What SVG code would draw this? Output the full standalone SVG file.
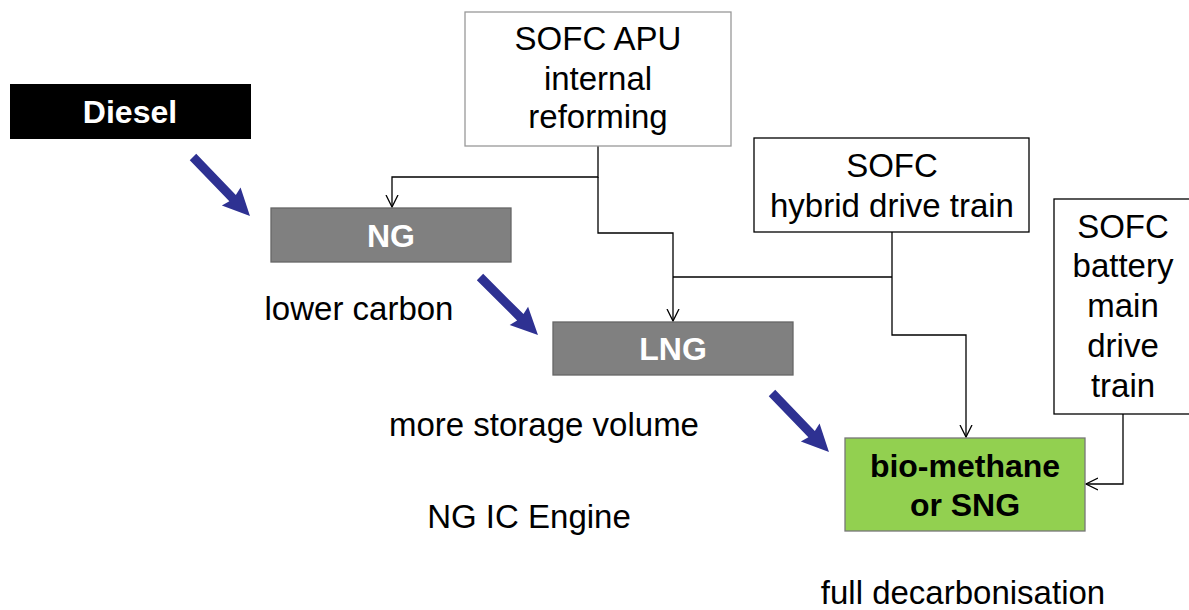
<svg xmlns="http://www.w3.org/2000/svg" width="1189" height="610" viewBox="0 0 1189 610">
<style>
  text { font-family: "Liberation Sans", Arial, sans-serif; font-size: 33px; text-anchor: middle; fill: #000; }
  .b { font-weight: bold; font-size: 32px; }
  .w { fill: #fff; }
  .wbox { fill: #fff; stroke: #000; stroke-width: 1.3; }
  .gbox { fill: #808080; stroke: #666; stroke-width: 1.3; }
  .conn { fill: none; stroke: #000; stroke-width: 1.3; }
</style>
<defs>
  <marker id="open" markerWidth="14" markerHeight="14" refX="12" refY="6" orient="auto" markerUnits="userSpaceOnUse" viewBox="0 0 14 12">
    <path d="M0,0 L12,6 L0,12" fill="none" stroke="#000" stroke-width="1.3"/>
  </marker>
  <polygon id="bigArrow" points="0,-4.5 57,-4.5 55,-13 82,0 55,13 57,4.5 0,4.5" fill="#2e3192"/>
</defs>
<rect width="1189" height="610" fill="#fff"/>

<g id="connectors">
  <path class="conn" d="M598,146 V177 H392 V207" marker-end="url(#open)"/>
  <path class="conn" d="M598,177 V233 H673 V321" marker-end="url(#open)"/>
  <path class="conn" d="M673,277 H892"/>
  <path class="conn" d="M892,232 V335 H966 V437" marker-end="url(#open)"/>
  <path class="conn" d="M1123,414 V484 H1086" marker-end="url(#open)"/>
  <use href="#bigArrow" transform="translate(193,157) rotate(46)"/>
  <use href="#bigArrow" transform="translate(480,277) rotate(45)"/>
  <use href="#bigArrow" transform="translate(772,393) rotate(46)"/>
</g>

<g id="diesel">
  <rect x="10" y="84" width="241" height="55" fill="#000"/>
  <text class="b w" x="130" y="123">Diesel</text>
</g>
<g id="ng">
  <rect class="gbox" x="271" y="208" width="240" height="54"/>
  <text class="b w" x="391" y="247">NG</text>
</g>
<g id="lng">
  <rect class="gbox" x="553" y="322" width="240" height="53"/>
  <text class="b w" x="673" y="360">LNG</text>
</g>
<g id="biomethane">
  <rect x="845" y="438" width="240" height="93" fill="#92d050" stroke="#777" stroke-width="1.3"/>
  <text class="b" x="965" y="477">bio-methane</text>
  <text class="b" x="965" y="516">or SNG</text>
</g>
<g id="sofc-apu">
  <rect x="465" y="12" width="266" height="134" fill="#fff" stroke="#999" stroke-width="1.3"/>
  <text x="598" y="50">SOFC APU</text>
  <text x="598" y="90">internal</text>
  <text x="598" y="128">reforming</text>
</g>
<g id="sofc-hybrid">
  <rect class="wbox" x="754" y="138" width="275" height="94"/>
  <text x="892" y="177">SOFC</text>
  <text x="892" y="217">hybrid drive train</text>
</g>
<g id="sofc-battery">
  <rect class="wbox" x="1054" y="199" width="140" height="215"/>
  <text x="1123" y="238">SOFC</text>
  <text x="1123" y="277">battery</text>
  <text x="1123" y="317">main</text>
  <text x="1123" y="357">drive</text>
  <text x="1123" y="397">train</text>
</g>
<g id="labels">
  <text x="359" y="320">lower carbon</text>
  <text x="544" y="436">more storage volume</text>
  <text x="529" y="528">NG IC Engine</text>
  <text x="963" y="604">full decarbonisation</text>
</g>
</svg>
